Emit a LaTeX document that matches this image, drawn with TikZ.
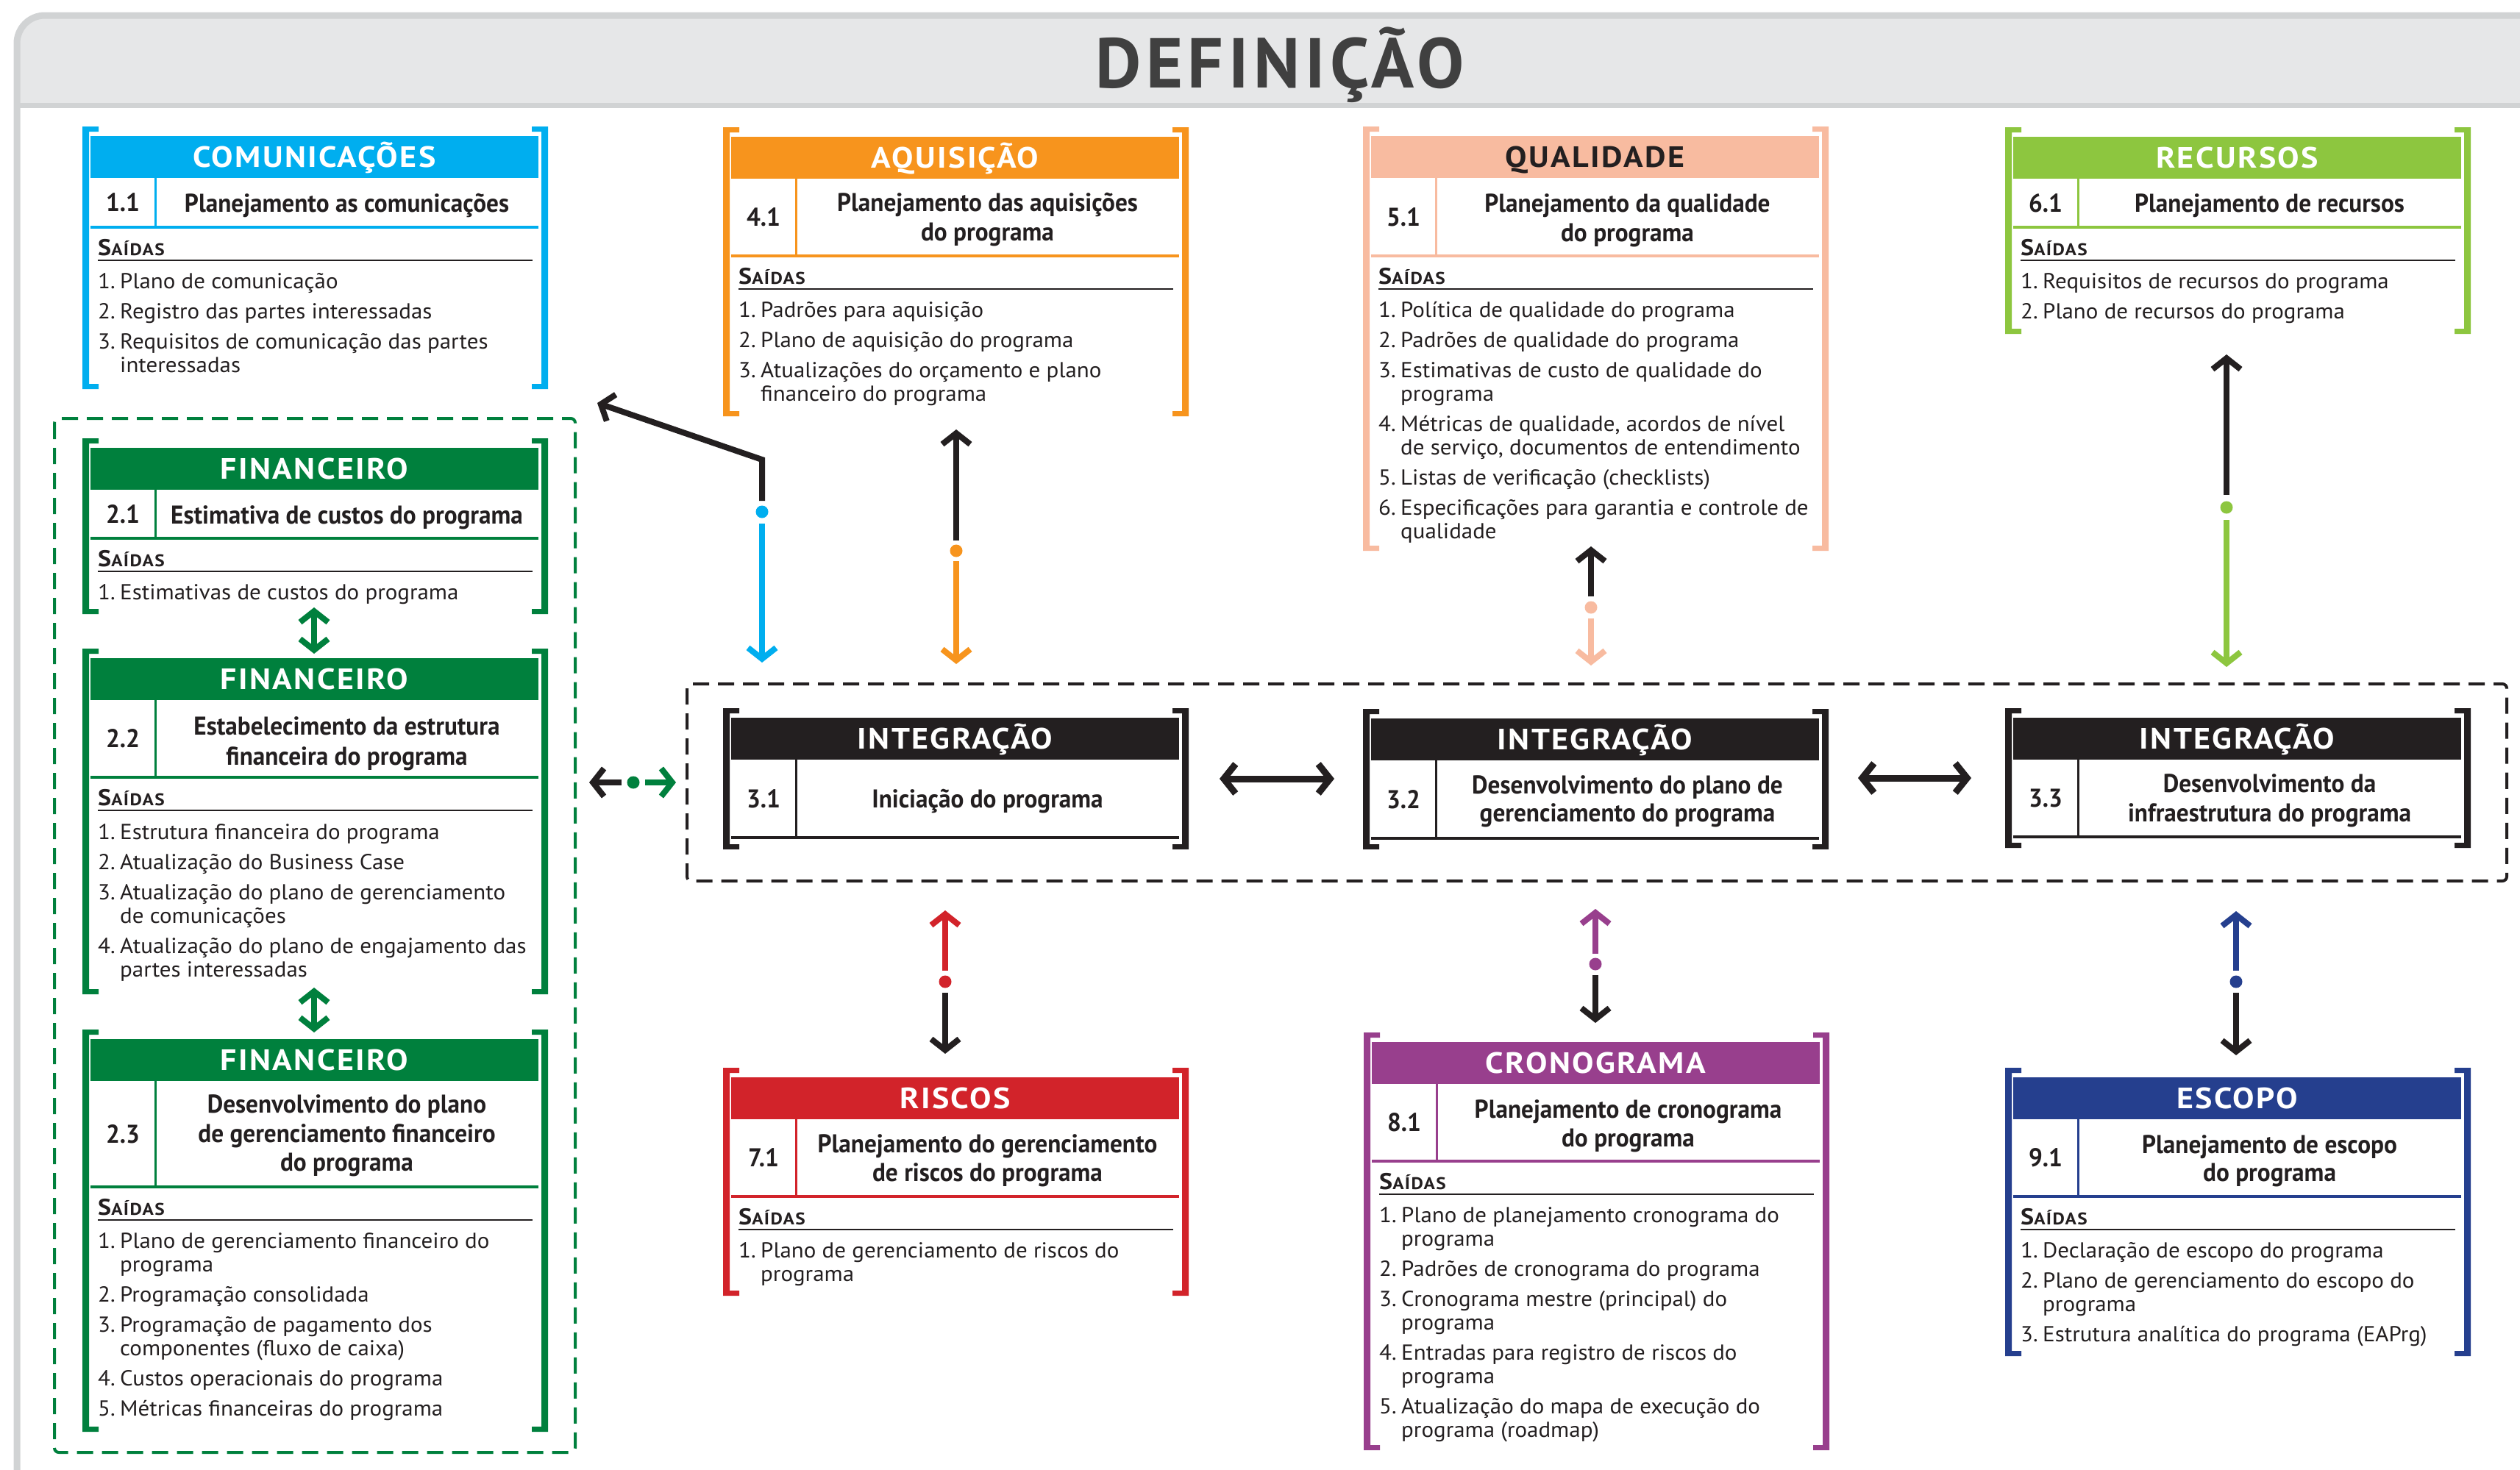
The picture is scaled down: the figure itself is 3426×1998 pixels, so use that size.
\documentclass[tikz,border=0pt]{standalone}
\usepackage{fontspec}
\setmainfont[FakeStretch=1.05]{PT Sans}
\newfontfamily\condb[FakeStretch=0.95]{PT Sans}
\newfontfamily\hdrf[FakeStretch=1.1,LetterSpace=6]{PT Sans}
\newfontfamily\ttlf[LetterSpace=7]{PT Sans}
\usetikzlibrary{arrows.meta}
\definecolor{cCom}{HTML}{00AEEF}
\definecolor{cAqu}{HTML}{F7941D}
\definecolor{cQua}{HTML}{F8BBA0}
\definecolor{cRec}{HTML}{8DC63F}
\definecolor{cFin}{HTML}{00803D}
\definecolor{cRis}{HTML}{D2232A}
\definecolor{cCro}{HTML}{983F8D}
\definecolor{cEsc}{HTML}{253F8E}
\definecolor{ink}{HTML}{231F20}
\definecolor{frameG}{HTML}{D1D3D4}
\definecolor{bandG}{HTML}{E6E7E8}
\definecolor{titleG}{HTML}{404040}
\tikzset{
 itm/.style={anchor=base west, inner sep=0pt, text=ink, font=\fontsize{29.5}{32}\selectfont},
 ttl/.style={anchor=base, inner sep=0pt, text=ink, font=\condb\bfseries\fontsize{35}{40}\selectfont},
 num/.style={anchor=center, inner sep=0pt, text=ink, font=\condb\bfseries\fontsize{35}{40}\selectfont},
 hdr/.style={anchor=base, inner sep=0pt, font=\hdrf\bfseries\fontsize{40}{44}\selectfont},
 sai/.style={anchor=base west, inner sep=0pt, text=ink, font=\hdrf\bfseries\fontsize{31}{31}\selectfont},
 conn/.style={line width=8pt},
 tipa/.tip={Straight Barb[length=15pt,width=38pt]},
 tipb/.tip={Straight Barb[length=16pt,width=40pt]},
 one/.style={-{tipa}},
 dbl/.style={{tipa}-{tipa}},
 dblb/.style={{tipb}-{tipb}},
 ddot/.style={circle, inner sep=0pt, minimum size=17pt, draw=none},
 gdash/.style={line width=4pt, dash pattern=on 22pt off 12pt, rounded corners=6pt},
}
\newcommand{\PBox}[5]{%
  \fill[#1] ({#2-11},#3) -- ({#2+11},#3) -- ({#2+11},{#3+7}) -- ({#2-2},{#3+7}) -- ({#2-2},{#5-7}) -- ({#2+11},{#5-7}) -- ({#2+11},#5) -- ({#2-11},#5) -- cycle;
  \fill[#1] ({#2+622},#3) -- ({#2+600},#3) -- ({#2+600},{#3+7}) -- ({#2+613},{#3+7}) -- ({#2+613},{#5-7}) -- ({#2+600},{#5-7}) -- ({#2+600},#5) -- ({#2+622},#5) -- cycle;
  \fill[#1] (#2,{#3+13}) rectangle ({#2+609},{#3+70});
  \draw[#1,line width=3pt] ({#2+88},{#3+70}) -- ({#2+88},#4);
  \draw[#1,line width=4pt] (#2,#4) -- ({#2+609},#4);
}
\newcommand{\Hdr}[5]{\node[hdr,text=#5] (#1) at ({#2+304.5},{#3+55.5}) {#4};}
\newcommand{\Num}[4]{\node[num] (#1) at ({#2+44},#3) {#4};}
\newcommand{\Ttl}[4]{\node[ttl] (#1) at ({#2+348.5},#3) {#4};}
\newcommand{\Sai}[3]{\node[sai] (#1) at ({#2+10},{#3+38}) {S\fontsize{23}{23}\selectfont AÍDAS};
  \draw[ink,line width=1.5pt] ({#2+10},{#3+45}) -- ({#2+601},{#3+45});}
\newcommand{\Itm}[5]{\node[itm] (#1) at ({#2+10},#3) {\makebox[30pt][l]{#4}#5};}
\newcommand{\Wrp}[4]{\node[itm] (#1) at ({#2+40},#3) {#4};}
\begin{document}
\begin{tikzpicture}[x=1pt,y=-1pt]
\useasboundingbox (0,0) rectangle (3426,1998);
\clip (0,0) rectangle (3426,1998);
% frame
\fill[bandG,rounded corners=38pt] (23,21) rectangle (3480,300);
\fill[white] (27,143) rectangle (3480,2100);
\draw[frameG,line width=7pt] (23,143) -- (3480,143);
\draw[frameG,line width=9pt,rounded corners=38pt] (23,21) rectangle (3480,2100);
\node[anchor=base, inner sep=0pt, text=titleG, font=\ttlf\bfseries\fontsize{96}{100}\selectfont] (title) at (1740,119) {DEFINIÇÃO};

% dashed groups
\draw[cFin,gdash] (74,569) rectangle (782,1975);
\draw[ink,gdash] (934,930) rectangle (3408,1198);

% COM
\PBox{cCom}{123}{172}{309}{529}
\Hdr{comH}{123}{172}{COMUNICAÇÕES}{white}
\Num{comN}{123}{275.5}{1.1}
\Ttl{comT}{123}{288}{Planejamento as comunicações}
\Sai{comS}{123}{309}
\Itm{comI1}{123}{392}{1.}{Plano de comunicação}
\Itm{comI2}{123}{433}{2.}{Registro das partes interessadas}
\Itm{comI3}{123}{474}{3.}{Requisitos de comunicação das partes}
\Wrp{comI4}{123}{506}{interessadas}

% AQU
\PBox{cAqu}{994}{173}{348}{566}
\Hdr{aquH}{994}{173}{AQUISIÇÃO}{white}
\Num{aquN}{994}{295.5}{4.1}
\Ttl{aquT1}{994}{287}{Planejamento das aquisições}
\Ttl{aquT2}{994}{327}{do programa}
\Sai{aquS}{994}{348}
\Itm{aquI1}{994}{431}{1.}{Padrões para aquisição}
\Itm{aquI2}{994}{472}{2.}{Plano de aquisição do programa}
\Itm{aquI3}{994}{513}{3.}{Atualizações do orçamento e plano}
\Wrp{aquI4}{994}{545}{financeiro do programa}

% QUA
\PBox{cQua}{1864}{172}{348}{749}
\Hdr{quaH}{1864}{172}{QUALIDADE}{ink}
\Num{quaN}{1864}{295}{5.1}
\Ttl{quaT1}{1864}{288}{Planejamento da qualidade}
\Ttl{quaT2}{1864}{328}{do programa}
\Sai{quaS}{1864}{348}
\Itm{quaI1}{1864}{431}{1.}{Política de qualidade do programa}
\Itm{quaI2}{1864}{472}{2.}{Padrões de qualidade do programa}
\Itm{quaI3}{1864}{513}{3.}{Estimativas de custo de qualidade do}
\Wrp{quaI4}{1864}{545}{programa}
\Itm{quaI5}{1864}{586}{4.}{Métricas de qualidade, acordos de nível}
\Wrp{quaI6}{1864}{618}{de serviço, documentos de entendimento}
\Itm{quaI7}{1864}{659}{5.}{Listas de verificação (checklists)}
\Itm{quaI8}{1864}{700}{6.}{Especificações para garantia e controle de}
\Wrp{quaI9}{1864}{732}{qualidade}

% REC
\PBox{cRec}{2737}{173}{309}{454}
\Hdr{recH}{2737}{173}{RECURSOS}{white}
\Num{recN}{2737}{276}{6.1}
\Ttl{recT}{2737}{288}{Planejamento de recursos}
\Sai{recS}{2737}{309}
\Itm{recI1}{2737}{392}{1.}{Requisitos de recursos do programa}
\Itm{recI2}{2737}{433}{2.}{Plano de recursos do programa}

% F21
\PBox{cFin}{123}{596}{732}{835}
\Hdr{f1H}{123}{596}{FINANCEIRO}{white}
\Num{f1N}{123}{699}{2.1}
\Ttl{f1T}{123}{712}{Estimativa de custos do programa}
\Sai{f1S}{123}{732}
\Itm{f1I1}{123}{815}{1.}{Estimativas de custos do programa}

% F22
\PBox{cFin}{123}{882}{1057}{1352}
\Hdr{f2H}{123}{882}{FINANCEIRO}{white}
\Num{f2N}{123}{1004.5}{2.2}
\Ttl{f2T1}{123}{999}{Estabelecimento da estrutura}
\Ttl{f2T2}{123}{1040}{financeira do programa}
\Sai{f2S}{123}{1057}
\Itm{f2I1}{123}{1141}{1.}{Estrutura financeira do programa}
\Itm{f2I2}{123}{1182}{2.}{Atualização do Business Case}
\Itm{f2I3}{123}{1223}{3.}{Atualização do plano de gerenciamento}
\Wrp{f2I4}{123}{1255}{de comunicações}
\Itm{f2I5}{123}{1296}{4.}{Atualização do plano de engajamento das}
\Wrp{f2I6}{123}{1328}{partes interessadas}

% F23
\PBox{cFin}{123}{1400}{1614}{1947}
\Hdr{f3H}{123}{1400}{FINANCEIRO}{white}
\Num{f3N}{123}{1542}{2.3}
\Ttl{f3T1}{123}{1513}{Desenvolvimento do plano}
\Ttl{f3T2}{123}{1553}{de gerenciamento financeiro}
\Ttl{f3T3}{123}{1592}{do programa}
\Sai{f3S}{123}{1614}
\Itm{f3I1}{123}{1697}{1.}{Plano de gerenciamento financeiro do}
\Wrp{f3I2}{123}{1729}{programa}
\Itm{f3I3}{123}{1770}{2.}{Programação consolidada}
\Itm{f3I4}{123}{1811}{3.}{Programação de pagamento dos}
\Wrp{f3I5}{123}{1843}{componentes (fluxo de caixa)}
\Itm{f3I6}{123}{1884}{4.}{Custos operacionais do programa}
\Itm{f3I7}{123}{1925}{5.}{Métricas financeiras do programa}

% I31
\PBox{ink}{994}{963}{1139}{1155}
\Hdr{i1H}{994}{963}{INTEGRAÇÃO}{white}
\Num{i1N}{994}{1086}{3.1}
\Ttl{i1T}{994}{1098}{Iniciação do programa}

% I32
\PBox{ink}{1864}{964}{1140}{1155}
\Hdr{i2H}{1864}{964}{INTEGRAÇÃO}{white}
\Num{i2N}{1864}{1087}{3.2}
\Ttl{i2T1}{1864}{1079}{Desenvolvimento do plano de}
\Ttl{i2T2}{1864}{1117}{gerenciamento do programa}

% I33
\PBox{ink}{2737}{963}{1138}{1153}
\Hdr{i3H}{2737}{963}{INTEGRAÇÃO}{white}
\Num{i3N}{2737}{1085.5}{3.3}
\Ttl{i3T1}{2737}{1077}{Desenvolvimento da}
\Ttl{i3T2}{2737}{1117}{infraestrutura do programa}

% RIS
\PBox{cRis}{994}{1452}{1627}{1762}
\Hdr{risH}{994}{1452}{RISCOS}{white}
\Num{risN}{994}{1574.5}{7.1}
\Ttl{risT1}{994}{1567}{Planejamento do gerenciamento}
\Ttl{risT2}{994}{1606}{de riscos do programa}
\Sai{risS}{994}{1627}
\Itm{risI1}{994}{1710}{1.}{Plano de gerenciamento de riscos do}
\Wrp{risI2}{994}{1742}{programa}

% CRO
\PBox{cCro}{1865}{1404}{1579}{1972}
\Hdr{croH}{1865}{1404}{CRONOGRAMA}{white}
\Num{croN}{1865}{1526.5}{8.1}
\Ttl{croT1}{1865}{1520}{Planejamento de cronograma}
\Ttl{croT2}{1865}{1559}{do programa}
\Sai{croS}{1865}{1579}
\Itm{croI1}{1865}{1662}{1.}{Plano de planejamento cronograma do}
\Wrp{croI2}{1865}{1694}{programa}
\Itm{croI3}{1865}{1735}{2.}{Padrões de cronograma do programa}
\Itm{croI4}{1865}{1776}{3.}{Cronograma mestre (principal) do}
\Wrp{croI5}{1865}{1808}{programa}
\Itm{croI6}{1865}{1849}{4.}{Entradas para registro de riscos do}
\Wrp{croI7}{1865}{1881}{programa}
\Itm{croI8}{1865}{1922}{5.}{Atualização do mapa de execução do}
\Wrp{croI9}{1865}{1954}{programa (roadmap)}

% ESC
\PBox{cEsc}{2737}{1452}{1627}{1844}
\Hdr{escH}{2737}{1452}{ESCOPO}{white}
\Num{escN}{2737}{1574.5}{9.1}
\Ttl{escT1}{2737}{1568}{Planejamento de escopo}
\Ttl{escT2}{2737}{1606}{do programa}
\Sai{escS}{2737}{1627}
\Itm{escI1}{2737}{1710}{1.}{Declaração de escopo do programa}
\Itm{escI2}{2737}{1751}{2.}{Plano de gerenciamento do escopo do}
\Wrp{escI3}{2737}{1783}{programa}
\Itm{escI4}{2737}{1824}{3.}{Estrutura analítica do programa (EAPrg)}

% ---- connectors ----
% communications
\coordinate (cyA) at (1036,681); \coordinate (cyB) at (1036,625); \coordinate (cyT) at (812,548);
\node[ddot,fill=cCom] (cyD) at (1036,696) {};
\coordinate (cyC) at (1036,712); \coordinate (cyE) at (1036,901);
\draw[ink,conn,one] (cyA) -- (cyB) -- (cyT);
\draw[cCom,conn,one] (cyC) -- (cyE);
% acquisition
\coordinate (orA) at (1300,735); \coordinate (orT) at (1300,584);
\node[ddot,fill=cAqu] (orD) at (1300,749) {};
\coordinate (orC) at (1300,763); \coordinate (orE) at (1300,903);
\draw[ink,conn,one] (orA) -- (orT);
\draw[cAqu,conn,one] (orC) -- (orE);
% quality
\coordinate (quA) at (2163,811); \coordinate (quT) at (2163,743);
\node[ddot,fill=cQua] (quD) at (2163,826) {};
\coordinate (quC) at (2163,841); \coordinate (quE) at (2163,905);
\draw[ink,conn,one] (quA) -- (quT);
\draw[cQua,conn,one] (quC) -- (quE);
% resources
\coordinate (reA) at (3027,673); \coordinate (reT) at (3027,482);
\node[ddot,fill=cRec] (reD) at (3027,690) {};
\coordinate (reC) at (3027,707); \coordinate (reE) at (3027,907);
\draw[ink,conn,one] (reA) -- (reT);
\draw[cRec,conn,one] (reC) -- (reE);
% risks
\coordinate (riA) at (1285,1320); \coordinate (riT) at (1285,1238);
\node[ddot,fill=cRis] (riD) at (1285,1335) {};
\coordinate (riC) at (1285,1350); \coordinate (riE) at (1285,1433);
\draw[cRis,conn,one] (riA) -- (riT);
\draw[ink,conn,one] (riC) -- (riE);
% schedule
\coordinate (crA) at (2169,1297); \coordinate (crT) at (2169,1236);
\node[ddot,fill=cCro] (crD) at (2169,1311) {};
\coordinate (crC) at (2169,1326); \coordinate (crE) at (2169,1391);
\draw[cCro,conn,one] (crA) -- (crT);
\draw[ink,conn,one] (crC) -- (crE);
% scope
\coordinate (esA) at (3040,1320); \coordinate (esT) at (3040,1239);
\node[ddot,fill=cEsc] (esD) at (3040,1335) {};
\coordinate (esC) at (3040,1350); \coordinate (esE) at (3040,1435);
\draw[cEsc,conn,one] (esA) -- (esT);
\draw[ink,conn,one] (esC) -- (esE);
% financial group to integration
\coordinate (lfA) at (845,1064); \coordinate (lfT) at (801,1064);
\node[ddot,fill=cFin] (lfD) at (861,1064) {};
\coordinate (lfC) at (877,1064); \coordinate (lfE) at (919,1064);
\draw[ink,conn,one] (lfA) -- (lfT);
\draw[cFin,conn,one] (lfC) -- (lfE);
% integration links
\coordinate (ia1) at (1658,1059); \coordinate (ia2) at (1814,1059);
\coordinate (ib1) at (2526,1058); \coordinate (ib2) at (2680,1058);
\draw[ink,line width=9pt,dblb] (ia1) -- (ia2);
\draw[ink,line width=9pt,dblb] (ib1) -- (ib2);
% financial links
\coordinate (fa1) at (427,826); \coordinate (fa2) at (427,889);
\coordinate (fb1) at (427,1343); \coordinate (fb2) at (427,1404);
\draw[cFin,conn,dbl] (fa1) -- (fa2);
\draw[cFin,conn,dbl] (fb1) -- (fb2);
\end{tikzpicture}
\end{document}
